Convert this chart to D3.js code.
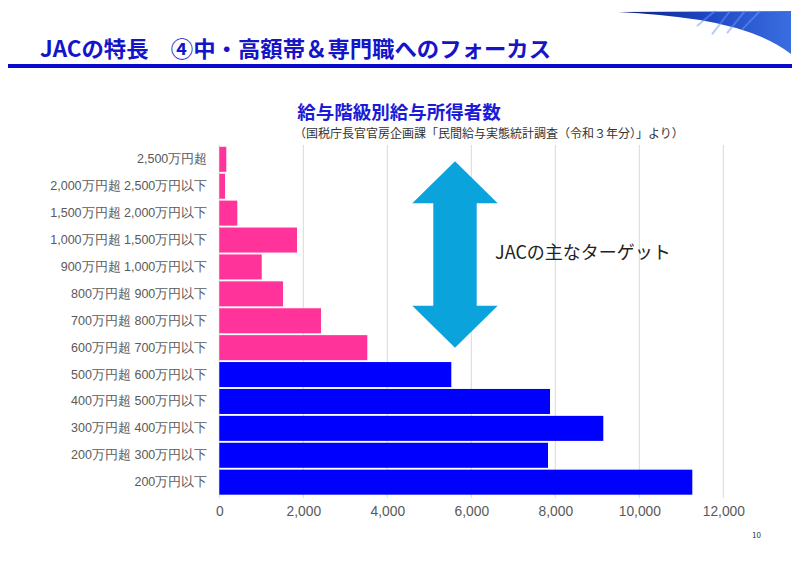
<!DOCTYPE html>
<html><head><meta charset="utf-8">
<script src="https://cdn.jsdelivr.net/npm/d3@7"></script>
<style>
html,body{margin:0;padding:0;background:#fff;}
svg{display:block;font-family:"Noto Sans CJK JP","Noto Sans",sans-serif;}
</style></head>
<body>
<svg id="c" width="800" height="566"></svg>
<script>
const categories = ["2,500万円超","2,000万円超 2,500万円以下","1,500万円超 2,000万円以下","1,000万円超 1,500万円以下","900万円超 1,000万円以下","800万円超 900万円以下","700万円超 800万円以下","600万円超 700万円以下","500万円超 600万円以下","400万円超 500万円以下","300万円超 400万円以下","200万円超 300万円以下","200万円以下"];
const values = [167, 136, 429, 1850, 1010, 1517, 2421, 3524, 5524, 7874, 9143, 7826, 11262];
const groups = ["target","target","target","target","target","target","target","target","other","other","other","other","other"];
const xTicks = [0,2000,4000,6000,8000,10000,12000];
const headerText = "JACの特長　④中・高額帯＆専門職へのフォーカス";
const chartTitle = "給与階級別給与所得者数";
const chartSubtitle = "（国税庁長官官房企画課「民間給与実態統計調査（令和３年分）」より）";
const annotation = "JACの主なターゲット";

const svg = d3.select("#c");

// header decoration
const defs = svg.append("defs");
const g1 = defs.append("linearGradient").attr("id","sw").attr("x1","0").attr("y1","0").attr("x2","1").attr("y2","0");
g1.append("stop").attr("offset","0").attr("stop-color","#0b1f7a");
g1.append("stop").attr("offset","0.5").attr("stop-color","#1d45c4");
g1.append("stop").attr("offset","1").attr("stop-color","#3a6ee0");
svg.append("path").attr("d","M618,12 L791,11 L791,54 Q760,30 700,20 Q660,14 618,12 Z").attr("fill","url(#sw)");
[[730,11,770,50],[745,11,785,48],[760,11,791,42],[715,11,752,36]].forEach(s=>{
  svg.append("line").attr("x1",s[0]).attr("y1",s[1]).attr("x2",s[0]-18).attr("y2",s[1]+ (s[3]-s[1])*0.6)
   .attr("stroke","#6d9bf0").attr("stroke-width",2).attr("opacity",0.5);
});

svg.append("text").attr("x",40).attr("y",57).attr("font-size",22).attr("font-weight","bold")
  .attr("fill","#1414c8").attr("textLength",511).attr("lengthAdjust","spacingAndGlyphs").text(headerText);
svg.append("rect").attr("x",8).attr("y",64).attr("width",784).attr("height",4).attr("fill","#0a0acc");

// chart titles
svg.append("text").attr("x",399).attr("y",119).attr("text-anchor","middle").attr("font-size",18.5)
  .attr("font-weight","bold").attr("fill","#1a1ad8").text(chartTitle);
svg.append("text").attr("x",489).attr("y",138).attr("text-anchor","middle").attr("font-size",12)
  .attr("fill","#333").text(chartSubtitle);

const x = d3.scaleLinear().domain([0,12000]).range([219.3,723.3]);
const y = d3.scaleBand().domain(categories).range([146,495.5]).paddingInner(0.07).paddingOuter(0.03);
const color = d3.scaleOrdinal().domain(["target","other"]).range(["#ff3399","#0000ff"]);

// gridlines
svg.append("g").selectAll("line").data(xTicks).join("line")
  .attr("x1",d=>x(d)).attr("x2",d=>x(d)).attr("y1",145).attr("y2",498)
  .attr("stroke","#d9d9d9").attr("stroke-width",1);

// bars
svg.append("g").selectAll("rect").data(categories).join("rect")
  .attr("x",x(0)).attr("y",d=>y(d)).attr("height",y.bandwidth())
  .attr("width",(d,i)=>x(values[i])-x(0))
  .attr("fill",(d,i)=>color(groups[i]));

// axes
const xa = svg.append("g").attr("transform","translate(0,500)")
  .call(d3.axisBottom(x).tickValues(xTicks).tickSize(0).tickPadding(6).tickFormat(d3.format(",")));
xa.select(".domain").remove();
xa.selectAll("text").attr("font-size",13.8).attr("fill","#595959").attr("font-family",null);

const ya = svg.append("g").attr("transform","translate(219.3,0)")
  .call(d3.axisLeft(y).tickSize(0).tickPadding(12));
ya.select(".domain").remove();
ya.selectAll("text").attr("font-size",12.5).attr("fill","#595959").attr("font-family",null);

// double arrow annotation
const ax = x(5612);
const arrTop = y(categories[0]) + y.bandwidth()/2 + 2;
const arrBot = y(categories[7]) + y.bandwidth()/2;
const hw = 42.7, sw = 21.7, hh = 42;
const pts = [[ax,arrTop],[ax+hw,arrTop+hh],[ax+sw,arrTop+hh],[ax+sw,arrBot-hh],[ax+hw,arrBot-hh],[ax,arrBot],
  [ax-hw,arrBot-hh],[ax-sw,arrBot-hh],[ax-sw,arrTop+hh],[ax-hw,arrTop+hh]];
svg.append("path").attr("d",d3.line()(pts)+"Z").attr("fill","#0aa3dc");

svg.append("text").attr("x",495).attr("y",259).attr("font-size",18).attr("fill","#222")
  .text(annotation);

svg.append("text").attr("x",752).attr("y",538).attr("font-size",8).attr("fill","#333").text("10");
</script>
</body></html>
